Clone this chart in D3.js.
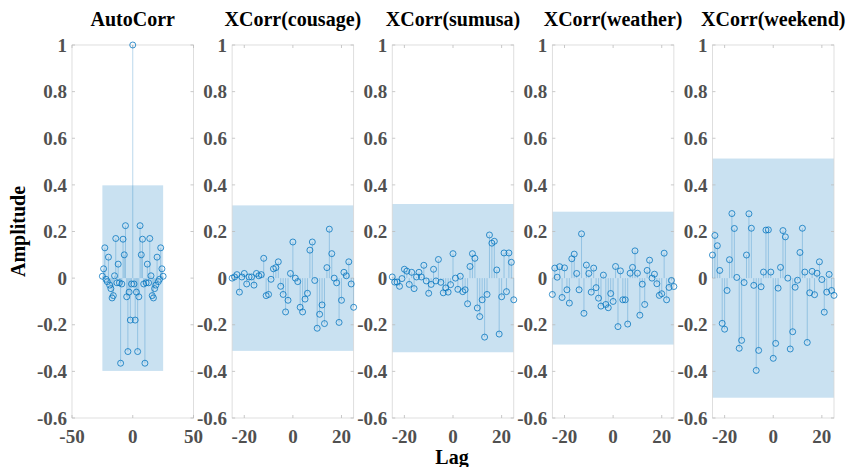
<!DOCTYPE html>
<html>
<head>
<meta charset="utf-8">
<script src="https://cdn.jsdelivr.net/npm/d3@7"></script>
<style>
  body { margin: 0; background: #fff; }
  text { font-family: "Liberation Serif", "DejaVu Serif", serif; font-weight: bold; }
</style>
</head>
<body>
<div id="chart"></div>
<script>
// lags -25 .. 25
var lags = [-25,-24,-23,-22,-21,-20,-19,-18,-17,-16,-15,-14,-13,-12,-11,-10,-9,-8,-7,-6,-5,-4,-3,-2,-1,
  0,1,2,3,4,5,6,7,8,9,10,11,12,13,14,15,16,17,18,19,20,21,22,23,24,25];

var titles = ["AutoCorr", "XCorr(cousage)", "XCorr(sumusa)", "XCorr(weather)", "XCorr(weekend)"];

var autoCorr = [0.008,0.04,0.13,-0.005,-0.015,0.09,-0.03,-0.045,-0.085,-0.075,0.01,0.17,-0.02,0.06,-0.02,-0.365,-0.025,0.167,0.10,0.225,-0.08,-0.315,-0.06,-0.18,-0.025,
  1,
  -0.025,-0.18,-0.06,-0.315,-0.08,0.225,0.10,0.167,-0.025,-0.365,-0.02,0.06,-0.02,0.17,0.01,-0.075,-0.085,-0.045,-0.03,0.09,-0.015,-0.005,0.13,0.04,0.008];

var xcCousage = [0.0,0.005,0.015,-0.06,0.005,0.02,-0.025,0.005,0.005,-0.03,0.02,0.01,0.015,0.085,-0.075,-0.07,-0.005,0.04,0.045,0.07,-0.035,-0.07,-0.145,-0.095,0.02,
  0.155,
  0.0,-0.015,-0.125,-0.145,-0.09,-0.065,0.12,0.155,-0.01,-0.215,-0.155,-0.115,-0.195,0.045,0.21,0.105,0.0,-0.02,-0.19,-0.095,0.025,0.01,0.07,-0.025,-0.125];

var xcSumusa = [0.005,-0.017,-0.017,-0.035,-0.002,0.038,0.03,-0.027,0.025,-0.045,0.005,0.025,0.005,0.055,-0.012,-0.065,-0.027,0.038,-0.012,0.08,-0.018,-0.063,-0.042,-0.06,-0.028,
  0.105,
  0.0,-0.048,0.008,-0.058,-0.05,-0.11,0.05,0.105,0.085,-0.128,-0.165,-0.093,-0.253,-0.07,0.185,0.15,0.158,0.035,-0.24,-0.08,0.108,-0.058,0.108,0.068,-0.093];

var xcWeather = [-0.07,0.043,0.004,0.049,-0.083,0.044,-0.05,-0.107,0.083,0.103,0.02,-0.05,0.19,-0.151,0.056,0.02,-0.06,0.043,-0.041,-0.086,-0.12,0.013,-0.113,-0.127,-0.066,
  -0.1,
  0.05,-0.208,0.031,-0.093,-0.093,-0.197,0.021,0.046,0.117,0.021,-0.159,-0.026,-0.113,0.033,0.077,0.0,0.017,-0.024,-0.074,-0.067,0.107,-0.093,-0.04,-0.01,-0.036];

var xcWeekend = [0.099,0.183,0.139,0.033,-0.194,-0.219,-0.053,0.079,0.277,0.213,0.003,-0.301,-0.267,-0.019,0.099,0.276,0.214,-0.031,-0.396,-0.31,-0.037,0.026,0.206,0.207,0.026,
  -0.344,
  -0.28,-0.043,0.046,0.204,0.177,0.0,-0.304,-0.23,-0.039,-0.009,0.11,0.214,0.026,-0.276,-0.063,0.029,-0.071,0.021,0.07,-0.006,-0.146,-0.06,0.016,-0.053,-0.074];

var bounds = [0.398, 0.312, 0.318, 0.285, 0.513];
var xDomains = [[-50, 50], [-25, 25], [-25, 25], [-25, 25], [-25, 25]];
var xTicks = [[-50, 0, 50], [-20, 0, 20], [-20, 0, 20], [-20, 0, 20], [-20, 0, 20]];
var yTicks = [1, 0.8, 0.6, 0.4, 0.2, 0, -0.2, -0.4, -0.6];

var series = [autoCorr, xcCousage, xcSumusa, xcWeather, xcWeekend];

var width = 850, height = 467;
var plotTop = 45, plotBottom = 418;
var blue = "#0072bd";

var svg = d3.select("#chart").append("svg")
  .attr("width", width)
  .attr("height", height);

var panelX = d3.scaleBand()
  .domain(titles)
  .range([72, 834])
  .paddingInner(0.241)
  .paddingOuter(0);

var y = d3.scaleLinear().domain([-0.6, 1]).range([plotBottom, plotTop]);
var fmt = function(d){ return d3.format("~g")(d).replace("−", "-"); };

titles.forEach(function(title, p){
  var x0 = panelX(title), w = panelX.bandwidth();
  var x = d3.scaleLinear().domain(xDomains[p]).range([x0, x0 + w]);
  var g = svg.append("g");

  // confidence bound shading
  g.append("rect")
    .attr("x", x(lags[0]))
    .attr("width", x(lags[lags.length-1]) - x(lags[0]))
    .attr("y", y(bounds[p]))
    .attr("height", y(-bounds[p]) - y(bounds[p]))
    .attr("fill", "#c9e1f1");

  // box
  g.append("rect")
    .attr("x", x0).attr("y", plotTop)
    .attr("width", w).attr("height", plotBottom - plotTop)
    .attr("fill", "none")
    .attr("stroke", "#d6d6d6")
    .attr("stroke-width", 0.8);

  // y ticks, both sides
  yTicks.forEach(function(t){
    g.append("line")
      .attr("x1", x0).attr("x2", x0 + 3)
      .attr("y1", y(t)).attr("y2", y(t))
      .attr("stroke", "#bbb").attr("stroke-width", 0.8);
    g.append("line")
      .attr("x1", x0 + w - 3).attr("x2", x0 + w)
      .attr("y1", y(t)).attr("y2", y(t))
      .attr("stroke", "#bbb").attr("stroke-width", 0.8);
  });
  xTicks[p].forEach(function(t){
    g.append("line")
      .attr("x1", x(t)).attr("x2", x(t))
      .attr("y1", plotBottom).attr("y2", plotBottom - 3)
      .attr("stroke", "#bbb").attr("stroke-width", 0.8);
    g.append("line")
      .attr("x1", x(t)).attr("x2", x(t))
      .attr("y1", plotTop).attr("y2", plotTop + 3)
      .attr("stroke", "#bbb").attr("stroke-width", 0.8);
  });

  // tick labels
  g.selectAll(".yl").data(yTicks).enter().append("text")
    .attr("x", x0 - 5)
    .attr("y", function(d){ return y(d); })
    .attr("dy", "0.35em")
    .attr("text-anchor", "end")
    .attr("font-size", 19)
    .attr("fill", "#505050")
    .text(fmt);

  g.selectAll(".xl").data(xTicks[p]).enter().append("text")
    .attr("x", function(d){ return x(d); })
    .attr("y", plotBottom + 25)
    .attr("text-anchor", "middle")
    .attr("font-size", 19)
    .attr("fill", "#505050")
    .text(fmt);

  // stems
  var vals = series[p];
  g.selectAll(".stem").data(lags).enter().append("line")
    .attr("x1", function(d){ return x(d); })
    .attr("x2", function(d){ return x(d); })
    .attr("y1", y(0))
    .attr("y2", function(d, i){ return y(vals[i]); })
    .attr("stroke", blue)
    .attr("stroke-opacity", 0.45)
    .attr("stroke-width", 0.6);

  g.selectAll(".mk").data(lags).enter().append("circle")
    .attr("cx", function(d){ return x(d); })
    .attr("cy", function(d, i){ return y(vals[i]); })
    .attr("r", 3)
    .attr("fill", "none")
    .attr("stroke", blue)
    .attr("stroke-opacity", 0.85)
    .attr("stroke-width", 0.9);

  // title
  svg.append("text")
    .attr("x", x0 + w / 2)
    .attr("y", 26)
    .attr("text-anchor", "middle")
    .attr("font-size", 20)
    .attr("fill", "#000")
    .text(title);
});

svg.append("text")
  .attr("transform", "translate(25," + ((plotTop + plotBottom) / 2) + ") rotate(-90)")
  .attr("text-anchor", "middle")
  .attr("font-size", 20)
  .attr("fill", "#000")
  .text("Amplitude");

svg.append("text")
  .attr("x", 452)
  .attr("y", 464)
  .attr("text-anchor", "middle")
  .attr("font-size", 20)
  .attr("fill", "#000")
  .text("Lag");
</script>
</body>
</html>
